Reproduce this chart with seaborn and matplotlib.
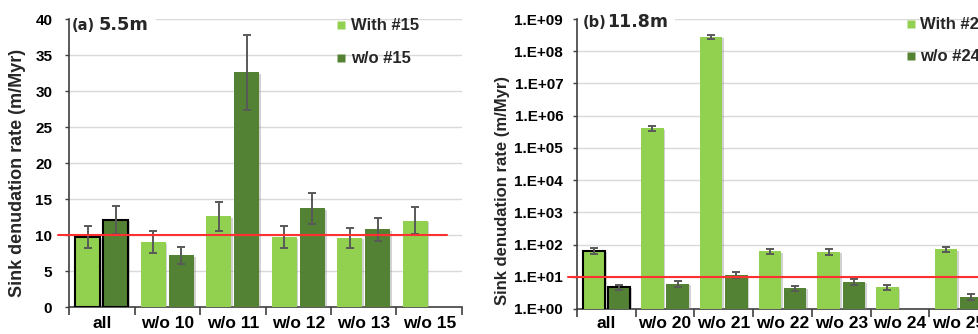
import numpy as np
import pandas as pd
import seaborn as sns
import matplotlib
matplotlib.use("Agg")
import matplotlib.pyplot as plt
from matplotlib.lines import Line2D
from matplotlib.patches import Rectangle
from matplotlib.ticker import FixedLocator, FixedFormatter, NullLocator
import matplotlib.patheffects as pe
import matplotlib.transforms as mtransforms

# ---- data -------------------------------------------------------------
cats_a = ["all", "w/o 10", "w/o 11", "w/o 12", "w/o 13", "w/o 15"]
with15 = [9.7, 9.0, 12.6, 9.7, 9.6, 12.0]
with15_err = [1.5, 1.5, 2.0, 1.5, 1.4, 1.9]
wo15 = [12.1, 7.2, 32.6, 13.7, 10.8, np.nan]
wo15_err = [2.0, 1.2, 5.2, 2.2, 1.6, np.nan]

cats_b = ["all", "w/o 20", "w/o 21", "w/o 22", "w/o 23", "w/o 24", "w/o 25"]
with24 = [65, 4.1e5, 2.8e8, 62, 59, 4.7, 72]
with24_err = [12.5, 7.5e4, 4.0e7, 12, 13, 0.9, 13]
wo24 = [4.8, 6.1, 11.5, 4.5, 7.0, np.nan, 2.4]
wo24_err = [0.85, 1.15, 2.1, 0.85, 1.35, np.nan, 0.45]

reference_rate = 10.0

LIGHT = "#92D050"
DARK = "#548235"
ERR = "#595959"
GRID = "#D9D9D9"
SPINE = "#404040"
RED = "#FF3030"

sns.set_theme(style="white")
plt.rcParams["font.family"] = ["Liberation Sans", "DejaVu Sans"]
plt.rcParams["font.weight"] = "bold"


def long_frame(cats, v1, v2, n1, n2):
    rows = []
    for c, a, b in zip(cats, v1, v2):
        if not np.isnan(a):
            rows.append((c, n1, a))
        if not np.isnan(b):
            rows.append((c, n2, b))
    return pd.DataFrame(rows, columns=["case", "set", "rate"])


def draw_panel(ax, cats, v1, e1, v2, e2, n1, n2, log, ypad, xpad):
    df = long_frame(cats, v1, v2, n1, n2)
    sns.barplot(data=df, x="case", y="rate", hue="set", order=cats,
                hue_order=[n1, n2], palette=[LIGHT, DARK], width=0.86,
                gap=0.11, errorbar=None, legend=False, ax=ax, zorder=3,
                linewidth=0, saturation=1)
    containers = list(ax.containers)
    for cont, vals, errs in zip(containers, [v1, v2], [e1, e2]):
        xs, ys, es = [], [], []
        for bar in cont:
            xc = bar.get_x() + bar.get_width() / 2
            idx = int(round(xc))
            bar.set_path_effects([pe.SimplePatchShadow(offset=(1.2, -1.0),
                                                       shadow_rgbFace="#808080",
                                                       alpha=0.35),
                                  pe.Normal()])
            if idx == 0:
                bar.set_edgecolor("black")
                bar.set_linewidth(1.5)
            xs.append(xc)
            ys.append(vals[idx])
            es.append(errs[idx])
        ax.errorbar(xs, ys, yerr=es, fmt="none", ecolor=ERR, elinewidth=1.4,
                    capsize=2.8, capthick=1.4, zorder=4)
    if log:
        ax.set_yscale("log")
    ax.set_xlim(-0.5, len(cats) - 0.5)
    ax.set_xlabel("")
    ax.grid(axis="y", color=GRID, linewidth=1.0, zorder=0)
    ax.set_axisbelow(True)
    for s in ["top", "right"]:
        ax.spines[s].set_visible(False)
    for s in ["left", "bottom"]:
        ax.spines[s].set_color(SPINE)
        ax.spines[s].set_linewidth(1.2)
    ax.xaxis.set_minor_locator(FixedLocator(np.arange(-0.5, len(cats), 1.0)))
    ax.tick_params(axis="x", which="major", length=0, pad=xpad, labelsize=12.5)
    ax.tick_params(axis="x", which="minor", length=6, width=1.2,
                   color=SPINE, direction="out", bottom=True)
    ax.tick_params(axis="y", which="major", length=3, width=1,
                   color=SPINE, direction="out", left=True, labelsize=11,
                   pad=ypad)
    for lbl in ax.get_xticklabels() + ax.get_yticklabels():
        lbl.set_fontweight("bold")
        lbl.set_color("black")


fig = plt.figure(figsize=(9.79, 3.34), dpi=100)
ax1 = fig.add_axes([0.0705, 0.0808, 0.4014, 0.862])
ax2 = fig.add_axes([0.5894, 0.0749, 0.4198, 0.868])

# ---- panel (a) --------------------------------------------------------
draw_panel(ax1, cats_a, with15, with15_err, wo15, wo15_err,
           "With #15", "w/o #15", log=False, ypad=9, xpad=6.5)
ax1.set_ylim(0, 40)
ax1.set_yticks(np.arange(0, 41, 5))
ax1.set_yticklabels([str(v) for v in range(0, 41, 5)], fontweight="bold")
ax1.set_ylabel("Sink denudation rate (m/Myr)", fontsize=13,
               fontweight="bold")
ax1.yaxis.set_label_coords(-0.132, 0.467)
ax1.yaxis.label.set_va("center")
tr1 = mtransforms.blended_transform_factory(ax1.transAxes, ax1.transData)
ax1.plot([-0.028, 0.962], [reference_rate, reference_rate], transform=tr1,
         color=RED, lw=1.5, zorder=5, clip_on=False)

# ---- panel (b) --------------------------------------------------------
draw_panel(ax2, cats_b, with24, with24_err, wo24, wo24_err,
           "With #24", "w/o #24", log=True, ypad=7, xpad=5)
ax2.set_ylim(1, 1e9)
decades = list(range(0, 10))
ax2.yaxis.set_major_locator(FixedLocator([10.0 ** k for k in decades]))
ax2.yaxis.set_major_formatter(FixedFormatter([f"1.E+{k:02d}" for k in decades]))
ax2.yaxis.set_minor_locator(NullLocator())
for lbl in ax2.get_yticklabels():
    lbl.set_fontweight("bold")
    lbl.set_fontsize(11)
ax2.set_ylabel("Sink denudation rate (m/Myr)", fontsize=12,
               fontweight="bold")
ax2.yaxis.set_label_coords(-0.182, 0.41)
ax2.yaxis.label.set_va("center")
tr2 = mtransforms.blended_transform_factory(ax2.transAxes, ax2.transData)
ax2.plot([-0.022, 1.0], [reference_rate, reference_rate], transform=tr2,
         color=RED, lw=1.5, zorder=5, clip_on=False)

# ---- panel titles on white boxes --------------------------------------
ax1.add_patch(Rectangle((0.003, 0.927), 0.218, 0.2, transform=ax1.transAxes,
                        facecolor="white", edgecolor="none", zorder=6,
                        clip_on=False))
ax2.add_patch(Rectangle((0.003, 0.945), 0.235, 0.2, transform=ax2.transAxes,
                        facecolor="white", edgecolor="none", zorder=6,
                        clip_on=False))
fig.text(0.0735, 0.910, "(a)", fontsize=10.5, fontweight="bold",
         family="DejaVu Sans", va="baseline", zorder=7)
fig.text(0.1011, 0.910, "5.5m", fontsize=12.8, fontweight="bold",
         family="DejaVu Sans", va="baseline", zorder=7)
fig.text(0.5955, 0.919, "(b)", fontsize=10.5, fontweight="bold",
         family="DejaVu Sans", va="baseline", zorder=7)
fig.text(0.620, 0.919, "11.8m", fontsize=12.5, fontweight="bold",
         family="DejaVu Sans", va="baseline", zorder=7)

# ---- legends ----------------------------------------------------------
def legend_handles(n1, n2):
    return [Line2D([], [], ls="none", marker="s", markersize=6.3,
                   markerfacecolor=c, markeredgecolor="none", label=n)
            for c, n in [(LIGHT, n1), (DARK, n2)]]


for ax, anchor, spacing, names in [
        (ax1, (0.3437, 0.945), 1.08, ("With #15", "w/o #15")),
        (ax2, (0.9250, 0.948), 1.02, ("With #24", "w/o #24"))]:
    leg = ax.legend(handles=legend_handles(*names), loc="upper left",
                    bbox_to_anchor=anchor, bbox_transform=fig.transFigure,
                    frameon=False, fontsize=12, handlelength=0.6,
                    handletextpad=0.25, labelspacing=spacing, borderpad=0,
                    borderaxespad=0)
    for t in leg.get_texts():
        t.set_fontweight("bold")
    leg.set_zorder(8)

fig.savefig("out.png", dpi=100)
